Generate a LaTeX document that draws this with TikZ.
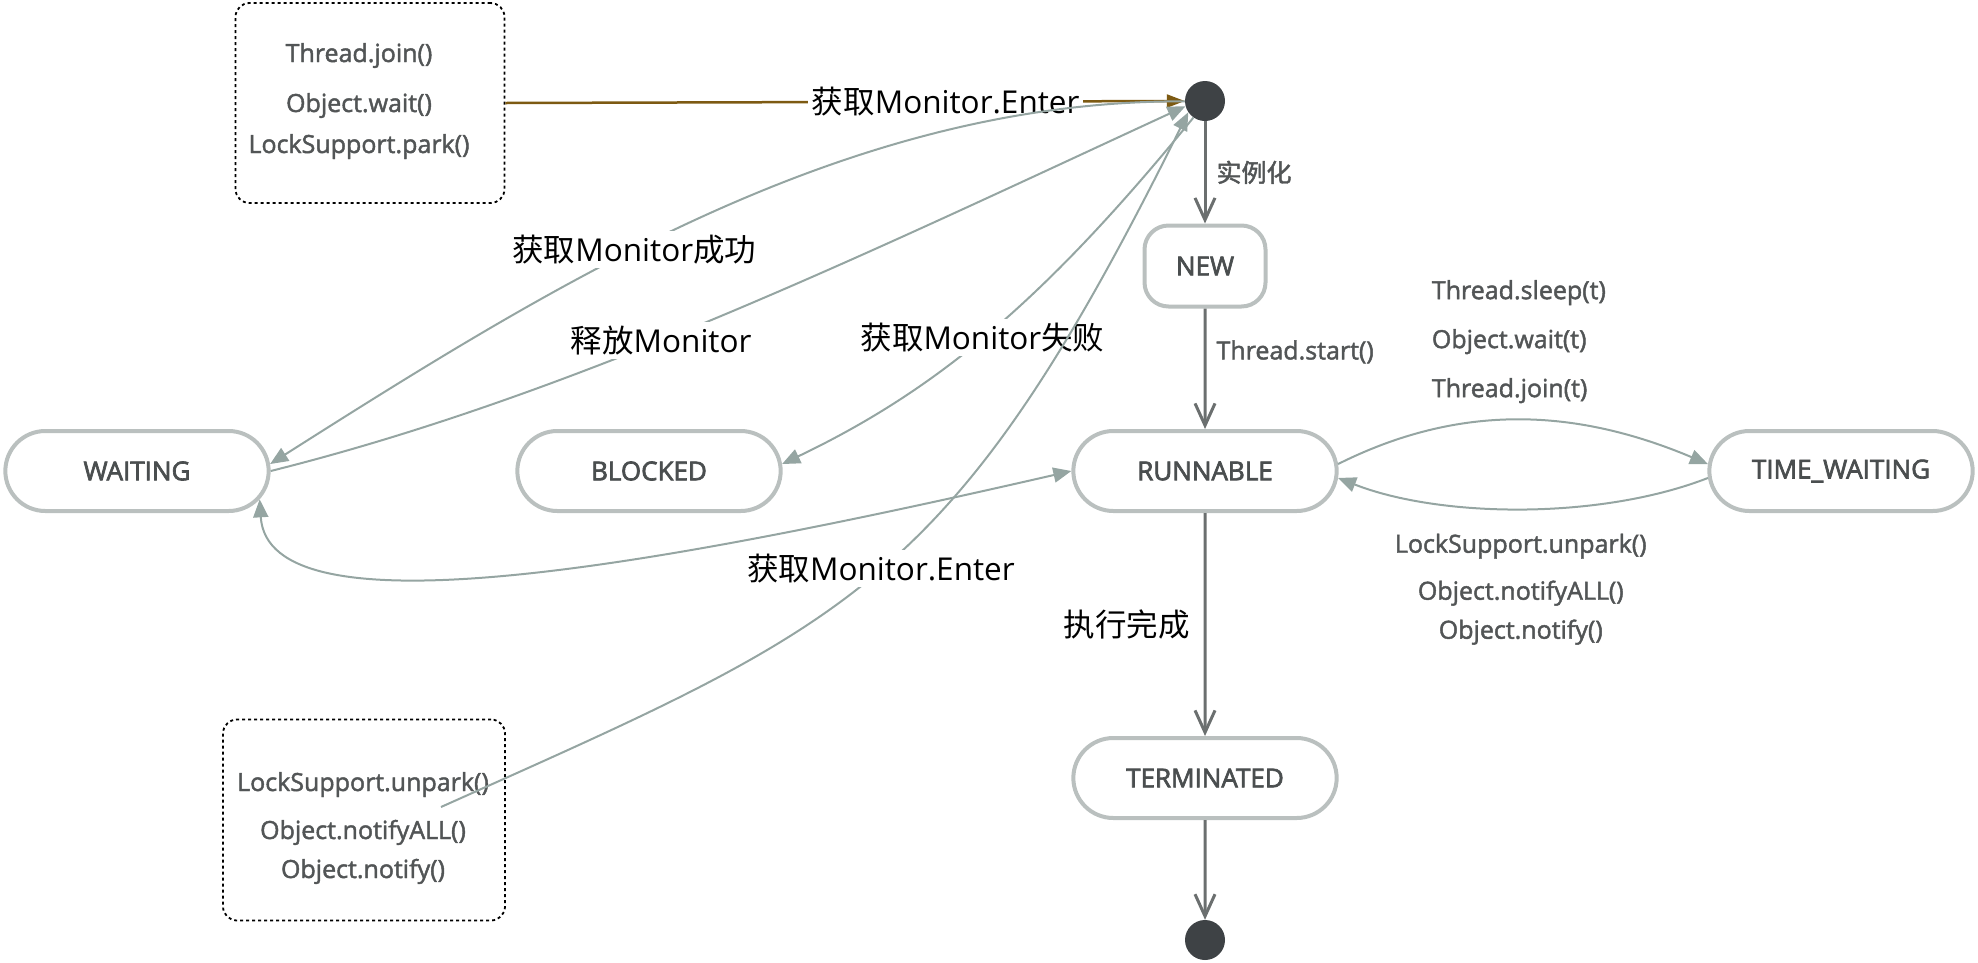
\documentclass[tikz,border=0pt]{standalone}
\usepackage{fontspec}
\setmainfont{Open Sans}
\newfontfamily\zh{Noto Sans CJK SC}
\newfontfamily\heavy[FakeBold=2.6]{Open Sans}
\newfontfamily\midheavy[FakeBold=1.8]{Open Sans}
\newfontfamily\zhheavy[FakeBold=1.8]{Noto Sans CJK SC}
\usetikzlibrary{arrows.meta,shapes.misc}
\definecolor{nodeline}{HTML}{BAC0BF}
\definecolor{nodetext}{HTML}{4A4E4F}
\definecolor{flowline}{HTML}{6B6F6F}
\definecolor{linkline}{HTML}{95A5A2}
\definecolor{enterline}{HTML}{7D5A12}
\definecolor{dotfill}{HTML}{3E4245}
\definecolor{calltext}{HTML}{525556}
\newcommand\statefont{\heavy\fontsize{26}{30}\selectfont}
\newcommand\callfont{\midheavy\fontsize{25}{30}\selectfont}
\newcommand\tagfont{\fontsize{31.5}{35}\selectfont}
\tikzset{stateBox/.style={
            draw=nodeline,
            fill=white,
            line width=4pt,
            rounded rectangle,
            minimum width=270pt,
            minimum height=80pt,
            text=nodetext,
            font=\statefont
        },
        newBox/.style={
            draw=nodeline,
            fill=white,
            line width=4pt,
            rounded corners=24pt,
            minimum width=121pt,
            minimum height=81pt,
            text=nodetext,
            font=\statefont
        },
        dot/.style={
            circle,
            fill=dotfill,
            inner sep=0pt,
            minimum size=40pt
        },
        noteBox/.style={
            draw,
            line width=1.8pt,
            dash pattern=on 3pt off 3pt,
            rounded corners=14pt
        },
        call/.style={
            text=calltext,
            inner sep=2pt,
            font=\callfont
        },
        tag/.style={
            fill=white,
            inner sep=4pt,
            font=\tagfont
        },
        flow/.style={
            draw=flowline,
            line width=3pt,
            -{Straight Barb[length=22pt,width=20pt]}
        },
        link/.style={
            draw=linkline,
            line width=2pt,
            -{Triangle[length=18pt,width=15pt]}
        },
        enter/.style={
            draw=enterline,
            line width=2.5pt,
            -{Triangle[length=18pt,width=13pt]}
        }
    }
\begin{document}
\begin{tikzpicture}[x=1pt,y=-1pt]
    \useasboundingbox (0,0) rectangle (1978,962);

    \node[dot] at (1205,101) (dotTop) {};
    \node[newBox] at (1205,266) (new) {NEW};
    \node[stateBox] at (1205,471) (runnable) {RUNNABLE};
    \node[stateBox] at (137,471) (waiting) {WAITING};
    \node[stateBox] at (649,471) (blocked) {BLOCKED};
    \node[stateBox] at (1841,471) (timeWaiting) {TIME\_WAITING};
    \node[stateBox] at (1205,778) (terminated) {TERMINATED};
    \node[dot] at (1205,940) (dotBottom) {};

    \node[noteBox,minimum width=269pt,minimum height=200pt] at (370,103) (parkNote) {};
    \node[call,align=center] at (359,101) (parkCalls)
        {Thread.join()\\[20pt]Object.wait()\\[11pt]LockSupport.park()};
    \node[noteBox,minimum width=282pt,minimum height=201pt] at (364,820) (unparkNote) {};
    \node[call,align=center] at (363,828) (unparkCalls)
        {LockSupport.unpark()\\[18pt]Object.notifyALL()\\[9pt]Object.notify()};
    \coordinate (notifyStart) at (441,807);

    \draw[flow] (dotTop) -- (new) node[midway,right=8pt,call] {{\zhheavy 实例化}};
    \draw[flow] (new) -- (runnable) node[pos=0.36,right=8pt,call] {Thread.start()};
    \draw[flow] (runnable) -- (terminated) node[midway,left=10pt,tag] {{\zh 执行完成}};
    \draw[flow] (terminated) -- (dotBottom);

    \draw[enter] (parkNote.east) -- (dotTop.west) node[pos=0.648,tag] {{\zh 获取}Monitor.Enter};

    \draw[link] (dotTop.181) .. controls (850,100) and (560,280) .. (waiting.3)
        node[pos=0.585,tag] {{\zh 获取}Monitor{\zh 成功}};
    \draw[link] (waiting.east) .. controls (575,395) and (872,251) .. (dotTop.195)
        node[pos=0.43,tag] {{\zh 释放}Monitor};
    \draw[link] (dotTop.235) .. controls (1045,300) and (937,390) .. (blocked.3)
        node[pos=0.52,tag] {{\zh 获取}Monitor{\zh 失败}};
    \draw[link,{Triangle[length=18pt,width=15pt]}-{Triangle[length=18pt,width=15pt]}]
        (waiting.-13) .. controls (268,635) and (640,570) .. (runnable.west);

    \draw[link] (runnable.3) .. controls (1460,403) and (1575,408) .. (timeWaiting.177)
        node[pos=0.5,above=14pt,call,align=left] {Thread.sleep(t)\\[19pt]Object.wait(t)\\[19pt]Thread.join(t)};
    \draw[link] (timeWaiting.183) .. controls (1600,520) and (1440,518) .. (runnable.-3)
        node[pos=0.5,below=22pt,call,align=center] {LockSupport.unpark()\\[17pt]Object.notifyALL()\\[9pt]Object.notify()};

    \draw[link] (notifyStart) .. controls (854,622) and (952,588) .. (dotTop.214)
        node[pos=0.5,tag] {{\zh 获取}Monitor.Enter};

\end{tikzpicture}
\end{document}
